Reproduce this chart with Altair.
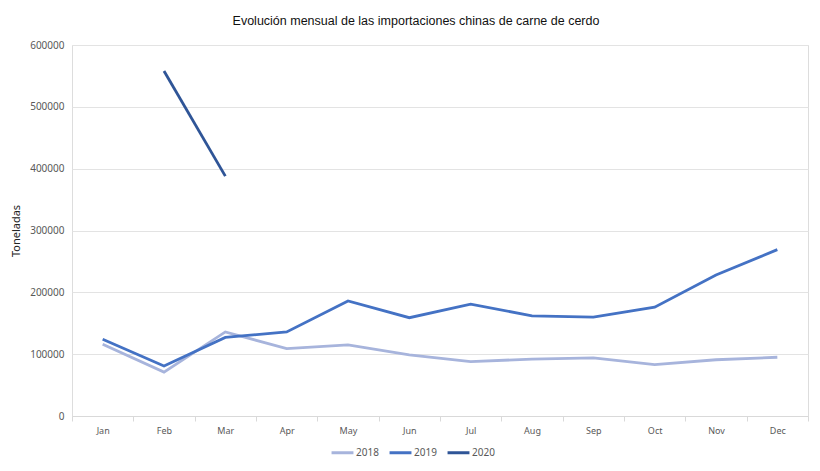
import altair as alt
import pandas as pd

months = ["Jan", "Feb", "Mar", "Apr", "May", "Jun", "Jul", "Aug", "Sep", "Oct", "Nov", "Dec"]
y2018 = [116000, 71000, 136000, 109000, 115000, 99000, 88000, 92000, 94000, 83000, 91000, 95000]
y2019 = [124000, 81000, 127000, 136000, 186000, 159000, 181000, 162000, 160000, 176000, 228000, 269000]
y2020 = [None, 558000, 388000, None, None, None, None, None, None, None, None, None]
series = ["2018", "2019", "2020"]
colors = ["#A7B4DC", "#4472C4", "#2F5597"]

rows = []
for name, vals in zip(series, [y2018, y2019, y2020]):
    for m, v in zip(months, vals):
        if v is not None:
            rows.append({"Mes": m, "Año": name, "Toneladas": v})
df = pd.DataFrame(rows)

chart = alt.Chart(df).mark_line(strokeWidth=2.8).encode(
    x=alt.X("Mes:N", sort=months, bandPosition=0.5,
            scale=alt.Scale(type="band", domain=months, paddingInner=0, paddingOuter=0),
            axis=alt.Axis(title=None, labelAngle=0, tickBand="extent", domainColor="#D9D9D9",
                          tickColor="#D9D9D9", tickSize=5, labelColor="#595959",
                          labelFont="Noto Sans", labelFontSize=9, labelPadding=5, grid=False)),
    y=alt.Y("Toneladas:Q", scale=alt.Scale(domain=[0, 600000], nice=False),
            axis=alt.Axis(title="Toneladas", values=[0, 100000, 200000, 300000, 400000, 500000, 600000],
                          format="d", domain=False, ticks=False, labelPadding=8,
                          labelColor="#595959", labelFont="Noto Sans", labelFontSize=10,
                          gridColor="#E3E3E3", titleFont="Noto Sans", titleFontSize=11,
                          titleFontWeight="normal", titleColor="#222222", titlePadding=8)),
    color=alt.Color("Año:N", scale=alt.Scale(domain=series, range=colors),
                    legend=alt.Legend(title=None, orient="none", direction="horizontal",
                                      legendX=258, legendY=395, symbolType="stroke",
                                      symbolStrokeWidth=3, symbolSize=480, labelFont="Noto Sans",
                                      labelFontSize=10, labelColor="#595959", columnPadding=4,
                                      labelOffset=1)),
).properties(
    width=736,
    height=371,
    title=alt.TitleParams("Evolución mensual de las importaciones chinas de carne de cerdo",
                          font="Liberation Sans", fontSize=12.5, fontWeight="normal",
                          color="#111111", anchor="middle", dx=-24, offset=13),
    autosize=alt.AutoSizeParams(type="none"),
    padding={"left": 72, "top": 45, "right": 12, "bottom": 55},
).configure_view(stroke=None).configure(background="white")

chart.save("out.html", embed_options={"renderer": "svg", "actions": False})
